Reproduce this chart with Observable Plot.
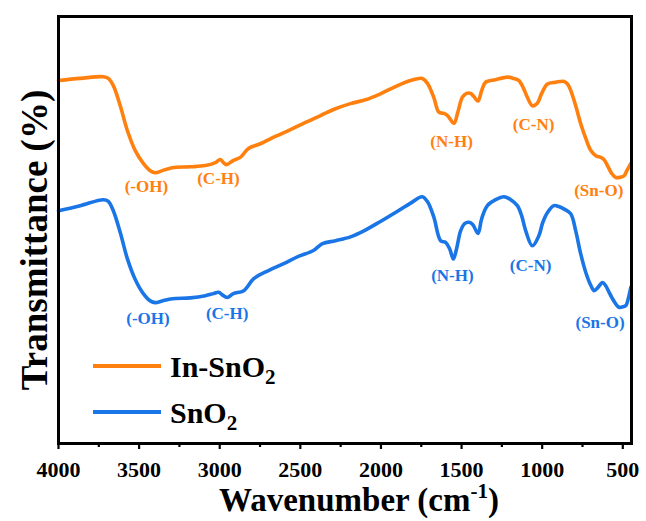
<!DOCTYPE html>
<html>
<head>
<meta charset="utf-8">
<script src="https://cdn.jsdelivr.net/npm/d3@7"></script>
<script src="https://cdn.jsdelivr.net/npm/@observablehq/plot@0.6"></script>
<style>
  html, body { margin: 0; padding: 0; background: #fff; }
  #chart { width: 646px; height: 521px; }
  #chart svg text { font-family: "Liberation Serif", "DejaVu Serif", serif !important; }
</style>
</head>
<body>
<div id="chart"></div>
<script>
// ---- Data ----
const seriesNames = ["In-SnO2", "SnO2"];
const seriesColors = ["#ff800e", "#1a75e6"];

const inWn = [4000,3865,3722,3691,3660,3617,3573,3524,3474,3431,3400,3356,3294,3182,3089,3027,2996,2977,2959,2915,2872,2822,2748,2655,2561,2468,2375,2282,2189,2096,2003,1910,1816,1744,1711,1672,1641,1610,1587,1547,1524,1495,1469,1444,1425,1398,1375,1351,1289,1216,1177,1144,1115,1092,1061,1030,1003,967,916,864,841,823,792,761,729,698,667,636,617,595,568,543,512,492,475,450];
const inT  = [85.0,85.5,85.9,85.5,83.8,79.1,73.3,68.6,65.6,63.9,63.4,63.9,64.6,64.8,65.1,65.8,66.5,65.8,65.3,66.3,67.0,69.1,70.2,71.9,73.5,75.2,76.8,78.4,79.6,80.5,81.9,83.6,85.0,85.5,84.3,81.0,77.6,77.3,76.8,75.0,77.5,81.1,82.0,82.0,81.3,80.2,82.7,84.6,85.2,85.8,85.5,85.0,83.1,81.1,79.1,79.7,82.0,84.2,84.6,84.8,84.1,82.7,79.1,74.9,71.4,68.6,67.4,67.0,66.5,65.1,63.2,62.3,62.4,62.7,63.9,65.6];

const snWn = [4000,3865,3722,3691,3660,3617,3573,3524,3474,3431,3400,3356,3294,3182,3089,3039,3007,2984,2954,2915,2851,2789,2698,2603,2512,2419,2363,2282,2189,2106,2003,1910,1816,1744,1711,1672,1630,1599,1574,1551,1531,1506,1481,1454,1431,1398,1375,1340,1289,1237,1195,1154,1127,1102,1061,1020,997,967,927,897,864,823,792,761,729,698,678,655,626,605,585,556,523,500,481,463,450];
const snT  = [54.5,55.7,57.1,56.7,54.5,49.4,43.3,38.4,35.1,33.4,33.0,33.4,33.9,34.1,34.6,35.1,35.4,34.8,34.2,35.1,35.8,38.6,40.5,42.1,43.8,45.2,46.8,47.5,48.4,49.8,52.0,54.1,56.3,57.8,56.6,53.0,47.5,47.1,45.6,43.2,45.6,49.8,51.5,51.8,51.3,49.2,52.7,55.7,57.1,57.8,57.1,55.7,53.3,49.8,46.3,48.7,51.7,54.1,55.7,55.5,54.9,53.8,49.8,44.4,40.0,37.0,35.8,36.5,37.7,36.9,35.4,33.4,31.9,32.0,32.3,34.4,36.6];

// Peak annotations
const annText = ["(-OH)","(C-H)","(N-H)","(C-N)","(Sn-O)"];
const inAnnWn = [3455,3008,1562,1053,649];
const inAnnT  = [60.2,62.0,70.7,74.7,59.2];
const snAnnWn = [3445,2954,1557,1072,641];
const snAnnT  = [29.2,30.4,39.3,41.7,28.4];

const majorTicks = [4000,3500,3000,2500,2000,1500,1000,500];
const minorTicks = [3750,3250,2750,2250,1750,1250,750];

// ---- Build tables ----
const inData = inWn.map((w,i)=>({wn:w, t:inT[i], s:seriesNames[0]}));
const snData = snWn.map((w,i)=>({wn:w, t:snT[i], s:seriesNames[1]}));
const inAnn = annText.map((txt,i)=>({wn:inAnnWn[i], t:inAnnT[i], txt}));
const snAnn = annText.map((txt,i)=>({wn:snAnnWn[i], t:snAnnT[i], txt}));

const FONT = "Liberation Serif, DejaVu Serif, serif";

const plot = Plot.plot({
  width: 646,
  height: 521,
  marginLeft: 58,
  marginRight: 15,
  marginTop: 16,
  marginBottom: 78,
  style: {fontFamily: FONT, background: "#fff", color: "#000", overflow: "visible"},
  x: {domain: [4000, 446], range: [58, 631]},
  y: {domain: [0, 100], axis: null},
  marks: [
    Plot.line(inData, {x:"wn", y:"t", stroke: seriesColors[0], strokeWidth: 3.6, curve: "catmull-rom"}),
    Plot.line(snData, {x:"wn", y:"t", stroke: seriesColors[1], strokeWidth: 3.6, curve: "catmull-rom"}),
    Plot.text(inAnn, {x:"wn", y:"t", text:"txt", fill: seriesColors[0], fontSize: 17, fontWeight: "bold"}),
    Plot.text(snAnn, {x:"wn", y:"t", text:"txt", fill: seriesColors[1], fontSize: 17, fontWeight: "bold"}),
    Plot.axisX({ticks: majorTicks, tickSize: 6, tickPadding: 12, fontSize: 22, fontWeight: "bold", strokeWidth: 2.2, label: null, tickFormat: d => String(d)}),
    Plot.axisX({ticks: minorTicks, tickSize: 4, strokeWidth: 2.2, text: null, label: null}),
    Plot.frame({stroke: "#000", strokeWidth: 3})
  ]
});

document.getElementById("chart").appendChild(plot);

// ---- Axis titles and legend (text) ----
const svg = d3.select(plot);
// x title
const xt = svg.append("text")
  .attr("x", 359).attr("y", 511)
  .attr("text-anchor", "middle")
  .style("font-weight", "bold").style("font-size", "33px").attr("fill", "#000");
xt.append("tspan").text("Wavenumber (cm");
xt.append("tspan").attr("font-size", "21px").attr("dy", "-13").text("-1");
xt.append("tspan").attr("dy", "13").text(")");

// y title
svg.append("text")
  .attr("transform", "translate(47,240) rotate(-90)")
  .attr("text-anchor", "middle")
  .style("font-weight", "bold").style("font-size", "37px").attr("fill", "#000")
  .text("Transmittance (%)");

// legend
const legY = [366, 412];
seriesNames.forEach((name, i) => {
  svg.append("line").attr("x1", 93).attr("x2", 161).attr("y1", legY[i]).attr("y2", legY[i])
    .attr("stroke", seriesColors[i]).attr("stroke-width", 4);
  const t = svg.append("text").attr("x", 170).attr("y", legY[i] + 11)
    .attr("text-anchor", "start")
    .style("font-weight", "bold").style("font-size", "30px").attr("fill", "#000");
  t.append("tspan").text(name.slice(0, -1));
  t.append("tspan").attr("font-size", "21px").attr("dy", "7").text(name.slice(-1));
});
</script>
</body>
</html>
